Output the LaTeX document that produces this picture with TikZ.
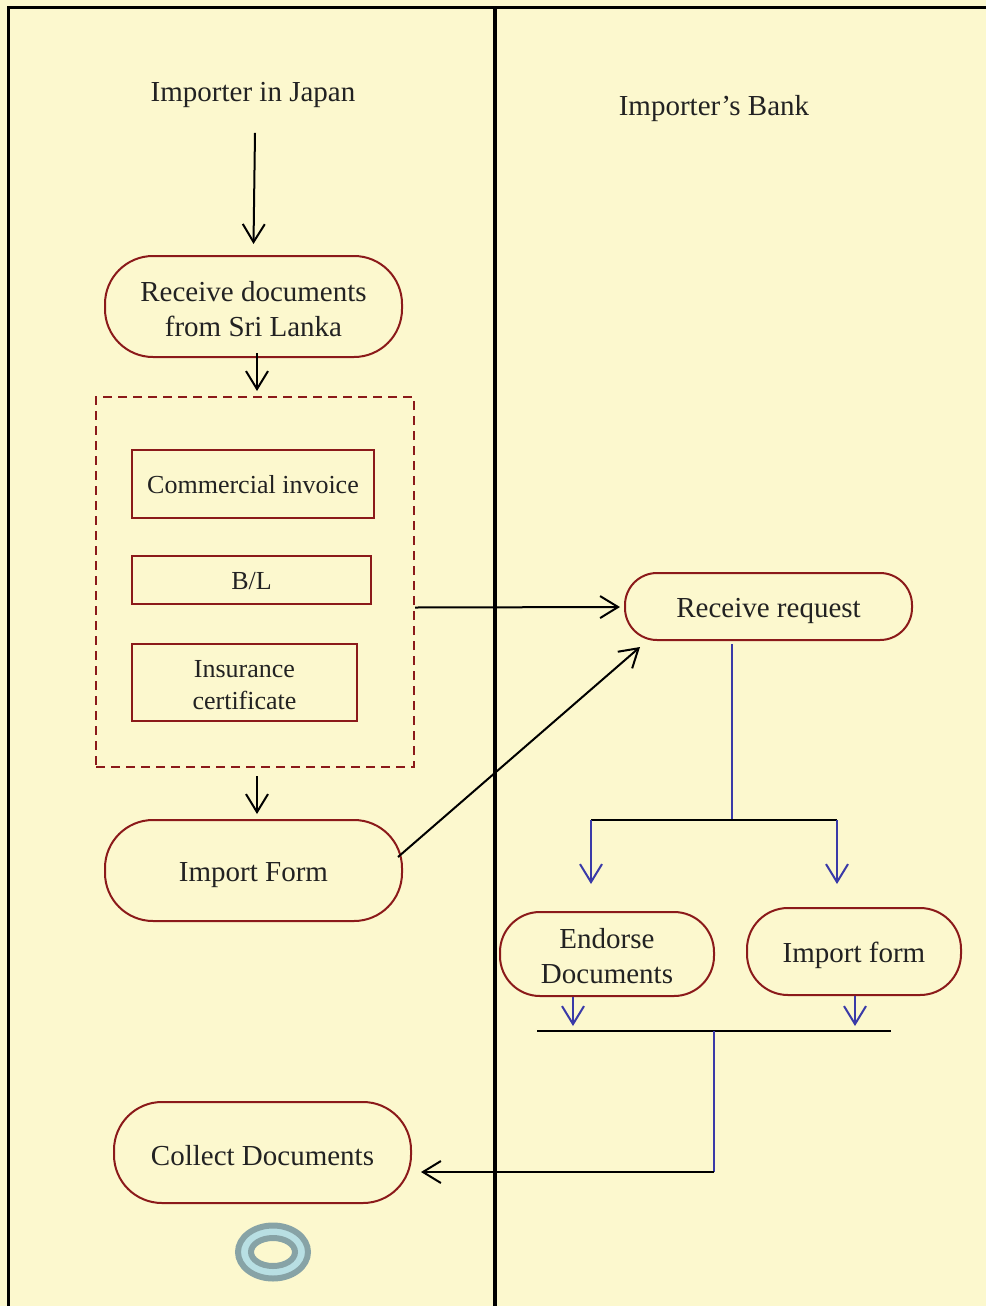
\documentclass[tikz,border=0pt]{standalone}
\usepackage{fontspec}
\setmainfont{Liberation Serif}
\usetikzlibrary{arrows.meta}
\definecolor{bg}{HTML}{FCF8CE}
\definecolor{nodered}{HTML}{8B1A1A}
\definecolor{flowblue}{HTML}{3A3AA8}
\definecolor{txt}{HTML}{222222}
\definecolor{ringgray}{HTML}{87A3A6}
\definecolor{ringblue}{HTML}{B8DFE3}
\newcommand{\lowerby}[2]{\raisebox{-#1}[\height][\depth]{#2}}
\begin{document}
\begin{tikzpicture}[x=1pt,y=-1pt,
  act/.style={draw=nodered, line width=2pt, align=center, text=txt,
    font=\fontsize{29}{35}\selectfont, inner sep=0pt},
  docbox/.style={draw=nodered, line width=2pt, align=center, text=txt,
    font=\fontsize{26}{32}\selectfont, inner sep=0pt},
  ttl/.style={text=txt, font=\fontsize{29}{35}\selectfont, inner sep=0pt},
  arr/.style={line width=2pt, draw=black, -{Straight Barb[length=18pt,width=22pt]}},
  barr/.style={line width=2pt, draw=flowblue, -{Straight Barb[length=18pt,width=22pt]}},
  bline/.style={line width=2pt, draw=flowblue},
  kline/.style={line width=2pt, draw=black},
]
\useasboundingbox (0,0) rectangle (986,1306);
\fill[bg] (0,0) rectangle (986,1306);

% swimlanes
\draw[line width=3pt, line join=miter] (8,1306) -- (8,8) -- (986,8);
\draw[line width=4pt] (495,8) -- (495,1306);

% titles
\node[ttl] (t1) at (253,95) {Importer in Japan};
\node[ttl] (t2) at (714,109) {Importer’s Bank};

% left lane nodes
\node[act, minimum width=297pt, minimum height=101pt, rounded corners=48pt] (rd) at (253.5,306.5) {\lowerby{3pt}{Receive documents}\\\lowerby{3pt}{from Sri Lanka}};
\node[draw=nodered, line width=2pt, dash pattern=on 9pt off 6pt, minimum width=318pt, minimum height=370pt, inner sep=0pt] (docs) at (255,582) {};
\node[docbox, minimum width=242pt, minimum height=68pt] (ci) at (253,484) {\lowerby{1pt}{Commercial invoice}};
\node[docbox, minimum width=239pt, minimum height=48pt] (bl) at (251.5,580) {\lowerby{1pt}{B/L}};
\node[docbox, minimum width=225pt, minimum height=77pt] (ic) at (244.5,682.5) {\lowerby{3pt}{Insurance}\\\lowerby{3pt}{certificate}};
\node[act, minimum width=297pt, minimum height=101pt, rounded corners=48pt] (imp) at (253.5,870.5) {\lowerby{5pt}{Import Form}};
\node[act, minimum width=297pt, minimum height=101pt, rounded corners=48pt] (cd) at (262.5,1152.5) {\lowerby{3pt}{Collect Documents}};

% right lane nodes
\node[act, minimum width=287pt, minimum height=67pt, rounded corners=32pt] (rr) at (768.5,606.5) {\lowerby{4pt}{Receive request}};
\node[act, minimum width=214pt, minimum height=84pt, rounded corners=40pt] (ed) at (607,954) {\lowerby{2pt}{Endorse}\\\lowerby{2pt}{Documents}};
\node[act, minimum width=214pt, minimum height=87pt, rounded corners=41pt] (if) at (854,951.5) {\lowerby{4pt}{Import form}};

% fork / join coordinates
\coordinate (fL) at (591,820);
\coordinate (fR) at (837,820);
\coordinate (fM) at (732,820);
\coordinate (jL) at (537,1031);
\coordinate (jR) at (891,1031);
\coordinate (jM) at (714,1031);
\coordinate (c2) at (714,1172);

% connectors left lane
\draw[arr] ([xshift=2pt,yshift=-25pt]t1.south) -- ([yshift=11pt]rd.north);
\draw[arr] ([xshift=3.5pt,yshift=5pt]rd.south) -- ([xshift=2pt,yshift=5pt]docs.north);
\draw[arr] ([xshift=2pt,yshift=-8pt]docs.south) -- ([xshift=3.5pt,yshift=5pt]imp.north);
\draw[arr, shorten >=4pt] ([yshift=-1pt]docs.east |- rr.west) -- ([yshift=-0.5pt]rr.west);
\draw[arr] ([xshift=-5pt,yshift=13.5pt]imp.east) -- ([xshift=-128.5pt,yshift=-6pt]rr.south);

% fork
\draw[bline] ([xshift=-36.5pt,yshift=-3pt]rr.south) -- (fM);
\draw[kline] (fL) -- (fR);
\draw[barr, shorten >=27pt] (fL) -- (fL |- ed.north);
\draw[barr, shorten >=23pt] (fR) -- (fR |- if.north);

% join
\draw[barr, shorten >=5pt] ([xshift=-34pt]ed.south) -- ([xshift=-34pt]ed.south |- jL);
\draw[barr, shorten >=5pt] ([xshift=1pt]if.south) -- ([xshift=1pt]if.south |- jR);
\draw[kline] (jL) -- (jR);
\draw[bline] (jM) -- (c2);
\draw[arr, shorten >=9pt] (c2) -- (cd.east |- c2);

% final state
\draw[ringgray, line width=6pt, fill=ringblue] (273,1252) ellipse [x radius=35pt, y radius=26.5pt];
\draw[ringgray, line width=6pt, fill=bg] (273,1252) ellipse [x radius=22pt, y radius=14pt];
\end{tikzpicture}
\end{document}
